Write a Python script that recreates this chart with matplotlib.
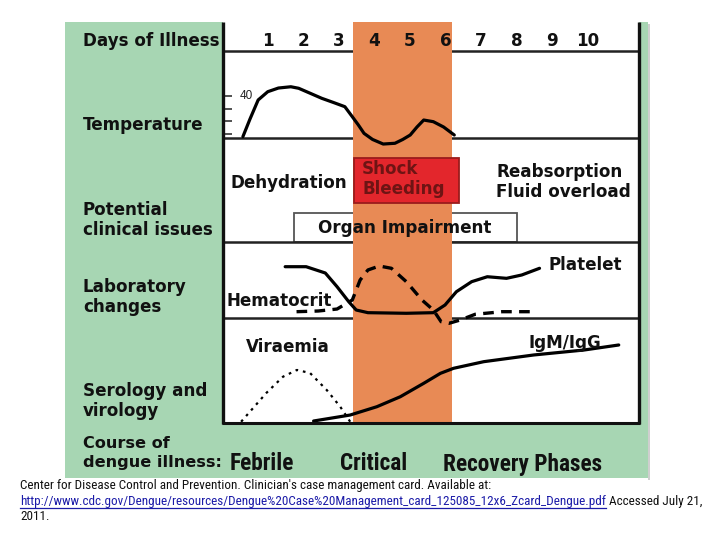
import matplotlib
matplotlib.use("Agg")
import matplotlib.pyplot as plt
from matplotlib.patches import Rectangle
from matplotlib import font_manager

# --- data ---
day_labels = [1, 2, 3, 4, 5, 6, 7, 8, 9, 10]
critical_days = (3.40, 6.18)

temp_day = [0.30, 0.50, 0.73, 1.00, 1.30, 1.65, 1.87, 2.20, 2.52, 2.85, 3.17, 3.38,
            3.55, 3.71, 3.95, 4.25, 4.58, 4.80, 5.01, 5.20, 5.39, 5.66, 5.95, 6.25]
temp_c = [36.79, 38.18, 39.68, 40.33, 40.62, 40.72, 40.60, 40.20, 39.81, 39.48, 39.15, 38.36,
          37.71, 37.05, 36.57, 36.21, 36.27, 36.57, 36.92, 37.55, 38.10, 37.97, 37.55, 36.92]
temp_ticks = [37, 38, 39, 40]

platelet_day = [1.49, 2.08, 2.62, 2.95, 3.28, 3.49, 3.82, 4.90, 5.66, 5.99, 6.31,
                6.74, 7.18, 7.72, 8.15, 8.65]
platelet = [0.675, 0.675, 0.592, 0.412, 0.214, 0.105, 0.070, 0.062, 0.070, 0.171, 0.346,
            0.478, 0.543, 0.522, 0.566, 0.654]

hct_day = [1.81, 2.42, 2.95, 3.38, 3.60, 3.82, 4.14, 4.48, 4.90, 5.34, 5.66, 5.88,
           6.10, 6.42, 6.84, 7.60, 8.48]
hct = [0.083, 0.092, 0.118, 0.237, 0.500, 0.632, 0.684, 0.654, 0.478, 0.237, 0.105, -0.049,
       -0.070, -0.026, 0.049, 0.083, 0.083]

vir_day = [0.25, 0.96, 1.43, 1.82, 2.19, 2.66, 3.04, 3.32]
vir = [0.012, 0.286, 0.441, 0.505, 0.476, 0.314, 0.155, 0.012]

igm_day = [2.29, 3.32, 4.07, 4.73, 5.39, 5.86, 6.23, 7.08, 8.49, 9.90, 10.88]
igm = [0.019, 0.076, 0.155, 0.250, 0.378, 0.473, 0.521, 0.584, 0.648, 0.695, 0.743]

row_labels = [("Days of Illness", [41]), ("Temperature", [125]),
              ("Potential\nclinical issues", [210, 230]), ("Laboratory\nchanges", [287, 307]),
              ("Serology and\nvirology", [391, 411]), ("Course of\ndengue illness:", [444, 463])]
phases = ["Febrile", "Critical", "Recovery Phases"]
citation = ["Center for Disease Control and Prevention. Clinician's case management card. "
            "Available at:",
            "http://www.cdc.gov/Dengue/resources/Dengue%20Case%20Management_card_"
            "125085_12x6_Zcard_Dengue.pdf",
            "Accessed July 21,", "2011."]

GREEN = "#a7d6b3"
ORANGE = "#e88a55"
RED = "#e3262c"

names = {f.name for f in font_manager.fontManager.ttflist}
NARROW = next((n for n in ["Liberation Sans Narrow", "DejaVu Sans Condensed",
                           "Roboto Condensed", "Open Sans Condensed"] if n in names),
              "Liberation Sans")
BOLDF = "DejaVu Sans"
plt.rcParams['font.family'] = ['Liberation Sans', 'DejaVu Sans']

W, H = 720, 540
fig = plt.figure(figsize=(7.2, 5.4), dpi=100)
renderer = fig.canvas.get_renderer()

# panel geometry in pixels
PL, PR, PT, PB = 223, 639, 22, 423
d_left, d_right = -0.26, 11.45  # days at panel edges


def frac(x0, x1, y0, y1):
    return [x0 / W, 1 - y1 / H, (x1 - x0) / W, (y1 - y0) / H]


def fit_size(s, width_px, **kw):
    t = fig.text(0, 0, s, fontsize=10, **kw)
    w = t.get_window_extent(renderer).width
    t.remove()
    return 10 * width_px / w


# background in pixel coordinates
bg = fig.add_axes([0, 0, 1, 1], zorder=0)
bg.set_xlim(0, W)
bg.set_ylim(H, 0)
bg.axis('off')
bg.add_patch(Rectangle((648, 24), 2, 456, color="#cfcfcf", lw=0))
bg.add_patch(Rectangle((65, 22), 583, 456, color=GREEN, lw=0))
bg.add_patch(Rectangle((PL, PT), PR - PL, PB - PT, color="white", lw=0))
for yy in [51, 137.5, 242, 318]:
    bg.plot([PL, PR], [yy, yy], color="#222222", lw=1.8, solid_capstyle='butt')
bg.add_patch(Rectangle((294, 213), 223, 29, fill=False, ec="#555555", lw=1.3))

# critical phase band
band = fig.add_axes(frac(PL, PR, PT, PB), zorder=1)
band.patch.set_alpha(0)
band.set_xlim(d_left, d_right)
band.axis('off')
band.axvspan(*critical_days, color=ORANGE, lw=0)

# temperature
ax_t = fig.add_axes(frac(PL, PR, 51, 137.5), zorder=2)
ax_t.patch.set_alpha(0)
ax_t.set_xlim(d_left, d_right)
ax_t.set_ylim(37 - 3.5 / 12.7, 37 + 83 / 12.7)
for s in ax_t.spines.values():
    s.set_visible(False)
ax_t.set_xticks([])
ax_t.set_yticks(temp_ticks)
ax_t.tick_params(axis='y', direction='in', length=6.5, width=1.2, color="#333333",
                 labelleft=False)
ax_t.plot(temp_day, temp_c, color="black", lw=2.3, clip_on=False, solid_capstyle='round')
ax_t.text(0.041, 40, "40", transform=ax_t.get_yaxis_transform(), fontsize=8.5,
          ha='left', va='center', color="#222222")

# laboratory changes
ax_l = fig.add_axes(frac(PL, PR, 242, 318), zorder=2)
ax_l.patch.set_alpha(0)
ax_l.set_xlim(d_left, d_right)
ax_l.set_ylim(0, 1)
ax_l.axis('off')
ax_l.plot(platelet_day, platelet, color="black", lw=2.3, clip_on=False, solid_capstyle='round')
ax_l.plot(hct_day, hct, color="black", lw=2.4, ls=(0, (3.2, 2.2)), clip_on=False)

# serology and virology
ax_s = fig.add_axes(frac(PL, PR, 318, PB), zorder=2)
ax_s.patch.set_alpha(0)
ax_s.set_xlim(d_left, d_right)
ax_s.set_ylim(0, 1)
ax_s.axis('off')
ax_s.plot(vir_day, vir, color="black", lw=1.6, ls=(0, (1.2, 2.2)), clip_on=False)
ax_s.plot(igm_day, igm, color="black", lw=2.3, clip_on=False, solid_capstyle='round')

# overlay: borders, boxes, text
ov = fig.add_axes([0, 0, 1, 1], zorder=3)
ov.patch.set_alpha(0)
ov.set_xlim(0, W)
ov.set_ylim(H, 0)
ov.axis('off')
ov.plot([PL, PL], [PT, PB + 1], color="#111111", lw=2.4, solid_capstyle='butt')
ov.plot([PR, PR], [PT, PB + 1], color="#111111", lw=2.4, solid_capstyle='butt')
ov.plot([PL - 1, PR + 1], [PB, PB], color="#111111", lw=2.2, solid_capstyle='butt')
ov.add_patch(Rectangle((354, 158), 105, 45, fc=RED, ec="#9a1c1c", lw=1.3))

fs = fit_size("clinical issues", 130, family=BOLDF, fontweight='bold')
fs_big = fit_size("dengue illness:", 138, family=BOLDF, fontweight='bold')
bold = dict(fontweight='bold', family=BOLDF, color="#111111", va='center', ha='left')
for label, ys in row_labels:
    for line, yy in zip(label.split("\n"), ys):
        size = fs_big if label.startswith("Course") else fs
        ov.text(83, yy, line, fontsize=size, **bold)

# day numbers on the same day scale as the curves
ax_d = fig.add_axes(frac(PL, PR, PT, 51), zorder=3)
ax_d.patch.set_alpha(0)
ax_d.set_xlim(d_left, d_right)
ax_d.set_ylim(0, 1)
ax_d.axis('off')
for d in day_labels:
    ax_d.text(d, 0.36, str(d), fontsize=fs, fontweight='bold', family=BOLDF,
              color="#111111", ha='center', va='center')

ov.text(231, 183, "Dehydration", fontsize=fs, **bold)
ov.text(362, 169, "Shock", fontsize=fs, fontweight='bold', family=BOLDF,
        color="#6e1414", va='center')
ov.text(362, 189, "Bleeding", fontsize=fs, fontweight='bold', family=BOLDF,
        color="#6e1414", va='center')
ov.text(496, 172, "Reabsorption", fontsize=fs, **bold)
ov.text(496, 192, "Fluid overload", fontsize=fs, **bold)
ov.text(405, 228, "Organ Impairment", fontsize=fs, fontweight='bold', family=BOLDF,
        color="#111111", ha='center', va='center')
ov.text(548, 265, "Platelet", fontsize=fs, **bold)
ov.text(226, 301, "Hematocrit", fontsize=fs, **bold)
ov.text(246, 347, "Viraemia", fontsize=fs, **bold)
ov.text(529, 343, "IgM/IgG", fontsize=fs, **bold)

fs_ph = fit_size("Recovery Phases", 159, family=NARROW, fontweight='bold')
for name, xx in zip(phases, [230, 340, 443]):
    ov.text(xx, 464, name, fontsize=fs_ph, fontweight='bold', family=NARROW,
            color="#111111", va='center', ha='left')

# citation
fs_cap = fit_size(citation[1], 584, family=NARROW)
cap = dict(fontsize=fs_cap, family=NARROW, va='center', ha='left', color="#111111")
ov.text(20, 486, citation[0], **cap)
url = ov.text(20, 502, citation[1], fontsize=fs_cap, family=NARROW, va='center',
              ha='left', color="#1b1ba8")
ov.text(20, 517, citation[3], **cap)

bb = url.get_window_extent(renderer)
x_end = 20 + bb.width * W / fig.bbox.width
ov.plot([20, x_end], [508, 508], color="#1b1ba8", lw=0.9)
ov.text(x_end + 3, 502, citation[2], **cap)

fig.savefig("out.png", dpi=100)
